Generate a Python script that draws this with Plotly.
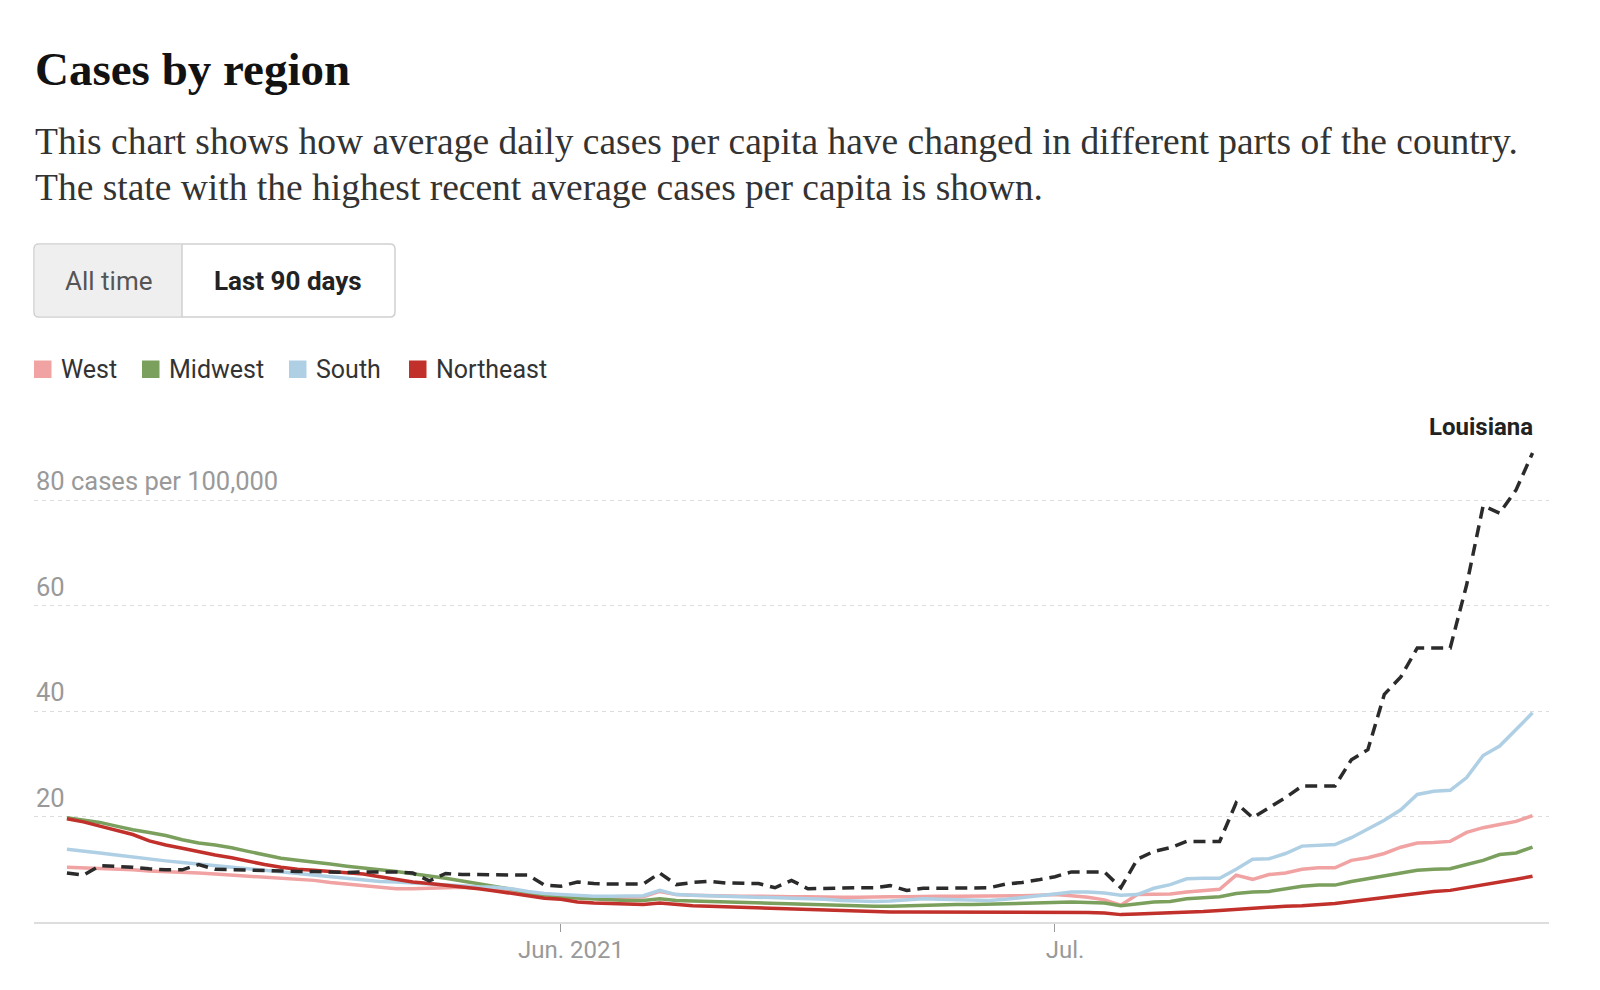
import plotly.graph_objects as go
import pandas as pd

# ---------------- data ----------------
dates = pd.date_range("2021-05-02", periods=90, freq="D")

west = [10.4, 10.3, 10.2, 10.0, 9.9, 9.7, 9.6, 9.4, 9.3, 9.1,
        8.9, 8.8, 8.6, 8.4, 8.1, 7.9, 7.5, 7.2, 6.9, 6.6,
        6.3, 6.3, 6.4, 6.5, 6.6, 6.4, 6.2, 5.8, 5.4, 5.1,
        4.9, 4.8, 4.8, 4.7, 4.7, 4.8, 5.8, 5.2, 5.1, 5.0,
        5.0, 4.9, 4.9, 4.8, 4.8, 4.8, 4.7, 4.7, 4.7, 4.8,
        4.8, 4.8, 4.9, 4.9, 4.9, 4.9, 4.9, 5.0, 5.0, 5.1,
        5.2, 5.0, 4.7, 4.2, 3.2, 5.2, 5.2, 5.3, 5.7, 5.9,
        6.2, 8.9, 8.1, 9.0, 9.3, 10.0, 10.3, 10.3, 11.7, 12.2,
        13.0, 14.2, 15.0, 15.1, 15.3, 17.0, 17.9, 18.5, 19.1, 20.2]

midwest = [19.8, 19.4, 18.9, 18.2, 17.5, 17.0, 16.4, 15.6, 15.0, 14.6,
           14.1, 13.4, 12.7, 12.1, 11.7, 11.4, 11.0, 10.6, 10.2, 9.9,
           9.6, 9.2, 8.8, 8.3, 7.8, 7.3, 6.8, 6.2, 5.6, 5.0,
           4.7, 4.5, 4.3, 4.2, 4.1, 4.1, 4.4, 4.1, 4.0, 3.9,
           3.8, 3.8, 3.7, 3.6, 3.5, 3.4, 3.3, 3.1, 3.0, 3.0,
           3.0, 3.1, 3.2, 3.2, 3.3, 3.3, 3.4, 3.5, 3.6, 3.7,
           3.8, 3.8, 3.7, 3.6, 3.1, 3.5, 3.8, 3.9, 4.4, 4.6,
           4.8, 5.4, 5.7, 5.8, 6.3, 6.8, 7.0, 7.0, 7.7, 8.2,
           8.8, 9.3, 9.8, 10.0, 10.1, 10.9, 11.7, 12.8, 13.1, 14.2]

south = [13.8, 13.5, 13.1, 12.7, 12.3, 12.0, 11.6, 11.3, 11.0, 10.7,
         10.4, 10.1, 9.8, 9.4, 9.1, 8.8, 8.5, 8.2, 7.9, 7.7,
         7.6, 7.4, 7.2, 7.0, 6.8, 6.7, 6.6, 6.3, 5.8, 5.4,
         5.2, 5.0, 4.9, 4.9, 4.9, 5.0, 6.0, 5.2, 5.1, 5.0,
         4.9, 4.9, 4.8, 4.7, 4.6, 4.5, 4.3, 4.1, 4.0, 3.9,
         4.0, 4.2, 4.4, 4.3, 4.2, 4.2, 4.1, 4.3, 4.6, 5.0,
         5.3, 5.7, 5.7, 5.5, 5.1, 5.2, 6.4, 7.1, 8.2, 8.3,
         8.3, 10.0, 11.9, 12.0, 13.0, 14.4, 14.5, 14.7, 16.0, 17.6,
         19.3, 21.3, 24.2, 24.8, 25.0, 27.4, 31.6, 33.4, 36.5, 39.7]

northeast = [19.6, 19.0, 18.2, 17.4, 16.6, 15.4, 14.6, 14.0, 13.3, 12.7,
             12.2, 11.5, 10.9, 10.4, 10.0, 9.8, 9.6, 9.4, 9.1, 8.6,
             8.1, 7.6, 7.3, 7.0, 6.6, 6.3, 5.9, 5.4, 4.9, 4.5,
             4.3, 3.8, 3.6, 3.5, 3.4, 3.3, 3.6, 3.3, 3.1, 3.0,
             2.9, 2.8, 2.7, 2.5, 2.4, 2.3, 2.2, 2.1, 2.0, 1.9,
             1.9, 1.9, 1.9, 1.9, 1.9, 1.9, 1.9, 1.9, 1.8, 1.8,
             1.8, 1.8, 1.8, 1.7, 1.4, 1.5, 1.6, 1.7, 1.9, 2.0,
             2.2, 2.4, 2.7, 2.9, 3.0, 3.1, 3.3, 3.5, 3.9, 4.3,
             4.6, 5.0, 5.5, 5.8, 6.0, 6.5, 7.0, 7.6, 8.1, 8.7]

louisiana = [9.3, 8.9, 10.7, 10.6, 10.4, 10.1, 9.9, 9.9, 10.9, 10.0,
             9.9, 9.8, 9.7, 9.7, 9.6, 9.6, 9.5, 9.4, 9.5, 9.5,
             9.5, 9.3, 7.8, 9.2, 9.0, 9.0, 9.0, 9.0, 8.9, 7.0,
             6.8, 7.6, 7.3, 7.2, 7.2, 7.2, 9.3, 7.1, 7.5, 7.7,
             7.4, 7.4, 7.3, 6.5, 7.9, 6.3, 6.4, 6.4, 6.5, 6.5,
             6.9, 6.0, 6.4, 6.4, 6.4, 6.4, 6.5, 7.2, 7.5, 8.0,
             8.6, 9.5, 9.5, 9.5, 6.5, 11.9, 13.4, 14.1, 15.3, 15.3,
             15.3, 22.6, 19.8, 21.7, 23.6, 25.8, 25.8, 25.8, 30.8, 32.7,
             43.2, 46.5, 52.0, 52.0, 52.0, 64.0, 79.0, 77.6, 82.0, 89.0]

region_names = ["West", "Midwest", "South", "Northeast"]
region_colors = ["#f0a3a2", "#7ba05d", "#afd0e4", "#c1302a"]
region_values = [west, midwest, south, northeast]
highlight_state = "Louisiana"

y_ticks = [20, 40, 60, 80]
y_tick_labels = ["20", "40", "60", "80 cases per 100,000"]
x_ticks = ["2021-06-01", "2021-07-01"]
x_tick_labels = ["Jun. 2021", "Jul."]

title = "Cases by region"
subtitle_lines = [
    "This chart shows how average daily cases per capita have changed in different parts of the country.",
    "The state with the highest recent average cases per capita is shown.",
]
buttons = ["All time", "Last 90 days"]

# ---------------- layout geometry ----------------
W, H = 1600, 990
ML, MR, MT, MB = 34, 51, 420, 68
PW, PH = W - ML - MR, H - MT - MB
SANS = "Roboto, 'Noto Sans', Arial, sans-serif"
SERIF = "'Liberation Serif', 'DejaVu Serif', serif"


def px(x):
    return (x - ML) / PW


def py(y):
    return (H - MB - y) / PH


def rounded_path(x0, y0, x1, y1, r, left=True, right=True):
    rx, ry = r / PW, r / PH
    X0, X1, Y0, Y1 = px(x0), px(x1), py(y0), py(y1)  # Y0 top, Y1 bottom
    parts = []
    if left:
        parts.append(f"M {X0 + rx} {Y0}")
    else:
        parts.append(f"M {X0} {Y0}")
    if right:
        parts.append(f"L {X1 - rx} {Y0} Q {X1} {Y0} {X1} {Y0 - ry}")
        parts.append(f"L {X1} {Y1 + ry} Q {X1} {Y1} {X1 - rx} {Y1}")
    else:
        parts.append(f"L {X1} {Y0} L {X1} {Y1}")
    if left:
        parts.append(f"L {X0 + rx} {Y1} Q {X0} {Y1} {X0} {Y1 + ry}")
        parts.append(f"L {X0} {Y0 - ry} Q {X0} {Y0} {X0 + rx} {Y0}")
    else:
        parts.append(f"L {X0} {Y1}")
    parts.append("Z")
    return " ".join(parts)


fig = go.Figure()

for name, color, vals in zip(region_names, region_colors, region_values):
    fig.add_trace(go.Scatter(
        x=dates, y=vals, mode="lines", name=name,
        line=dict(color=color, width=3.5),
        showlegend=False, hoverinfo="skip",
    ))

fig.add_trace(go.Scatter(
    x=dates, y=louisiana, mode="lines", name=highlight_state,
    line=dict(color="#2b2b2b", width=3.5, dash="12px,7px"),
    showlegend=False, hoverinfo="skip",
))

annotations = []
shapes = []

# title & subtitle
annotations.append(dict(
    xref="paper", yref="paper", x=px(33), y=py(69), xanchor="left", yanchor="middle",
    text=f"<b>{title}</b>", showarrow=False,
    font=dict(family=SERIF, size=47, color="#121212"),
))
for i, line in enumerate(subtitle_lines):
    annotations.append(dict(
        xref="paper", yref="paper", x=px(33), y=py(141 + 47 * i), xanchor="left", yanchor="middle",
        text=line, showarrow=False,
        font=dict(family=SERIF, size=37.5, color="#333333"),
    ))

# toggle buttons
shapes.append(dict(type="path", xref="paper", yref="paper",
                   path=rounded_path(34, 244, 395, 317, 5),
                   fillcolor="#ffffff", line=dict(color="#d0d0d0", width=1.5), layer="above"))
shapes.append(dict(type="path", xref="paper", yref="paper",
                   path=rounded_path(34.75, 244.75, 182, 316.25, 4.5, left=True, right=False),
                   fillcolor="#efefef", line=dict(width=0), layer="above"))
shapes.append(dict(type="line", xref="paper", yref="paper",
                   x0=px(182), x1=px(182), y0=py(244), y1=py(317),
                   line=dict(color="#d0d0d0", width=1.5), layer="above"))
annotations.append(dict(
    xref="paper", yref="paper", x=px(108), y=py(281), xanchor="center", yanchor="middle",
    text=buttons[0], showarrow=False, font=dict(family=SANS, size=26, color="#555555"),
))
annotations.append(dict(
    xref="paper", yref="paper", x=px(288), y=py(281), xanchor="center", yanchor="middle",
    text=f"<b>{buttons[1]}</b>", showarrow=False, font=dict(family=SANS, size=26, color="#222222"),
))

# legend
leg_sq_x = [34, 142, 289, 409]
for name, color, sx in zip(region_names, region_colors, leg_sq_x):
    shapes.append(dict(type="rect", xref="paper", yref="paper",
                       x0=px(sx), x1=px(sx + 17.5), y0=py(360.5), y1=py(378),
                       fillcolor=color, line=dict(width=0)))
    annotations.append(dict(
        xref="paper", yref="paper", x=px(sx + 25), y=py(369), xanchor="left", yanchor="middle",
        text=name, showarrow=False, font=dict(family=SANS, size=25, color="#333333"),
    ))

# y labels
for v, lab in zip(y_ticks, y_tick_labels):
    annotations.append(dict(
        xref="paper", yref="y", x=0, y=v, xanchor="left", yanchor="middle", yshift=19,
        text=lab, showarrow=False, font=dict(family=SANS, size=25.5, color="#999999"),
    ))

# highlight label
annotations.append(dict(
    xref="x", yref="y", x=dates[-1], y=louisiana[-1], xanchor="right", yanchor="middle",
    yshift=26, xshift=2, text=f"<b>{highlight_state}</b>", showarrow=False,
    font=dict(family=SANS, size=24, color="#222222"),
))

fig.update_layout(
    width=W, height=H,
    margin=dict(l=ML, r=MR, t=MT, b=MB, pad=0),
    paper_bgcolor="#ffffff", plot_bgcolor="#ffffff",
    showlegend=False,
    annotations=annotations, shapes=shapes,
    xaxis=dict(
        type="date", range=["2021-04-30", "2021-07-31"],
        tickvals=x_ticks, ticktext=x_tick_labels,
        ticks="outside", ticklen=8, tickwidth=1, tickcolor="#999999",
        tickfont=dict(family=SANS, size=24, color="#999999"),
        ticklabelshift=10, ticklabelstandoff=-3,
        showline=True, linecolor="#dddddd", linewidth=2,
        showgrid=False, zeroline=False, fixedrange=True,
    ),
    yaxis=dict(
        range=[0, 95.27], tickvals=y_ticks, showticklabels=False,
        showgrid=True, gridcolor="#dddddd", gridwidth=1, griddash="4px,4px",
        showline=False, zeroline=False, ticks="", fixedrange=True,
    ),
)

fig.write_html("out.html")
